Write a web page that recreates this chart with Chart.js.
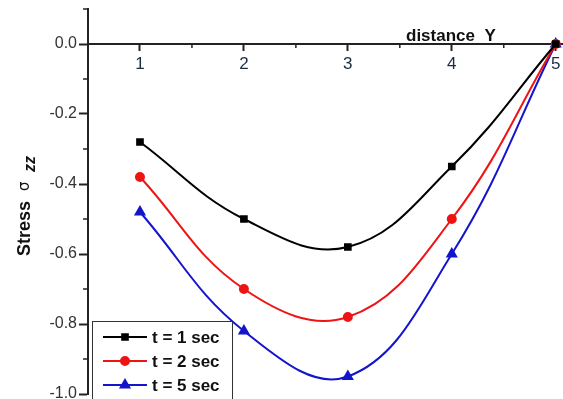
<!DOCTYPE html>
<html>
<head>
<meta charset="utf-8">
<script src="https://cdn.jsdelivr.net/npm/chart.js@4.4.1/dist/chart.umd.min.js"></script>
<style>
  html, body { margin: 0; padding: 0; background: #fff; }
  #wrap { width: 563px; height: 399px; }
</style>
</head>
<body>
<div id="wrap"><canvas id="myChart"></canvas></div>
<script>
// distance Y
const distance = [1, 2, 3, 4, 5];
// stress sigma zz for each time
const stressT1 = [-0.28, -0.50, -0.58, -0.35, 0.0];
const stressT2 = [-0.38, -0.70, -0.78, -0.50, 0.0];
const stressT5 = [-0.48, -0.82, -0.95, -0.60, 0.0];
const seriesLabels = ["t = 1 sec", "t = 2 sec", "t = 5 sec"];
const yTickLabels = [0.0, -0.2, -0.4, -0.6, -0.8, -1.0];
const xTickLabels = [1, 2, 3, 4, 5];

const colors = ["#000000", "#ee1414", "#1414cc"];
const markers = ["rect", "circle", "triangle"];
const allSeries = [stressT1, stressT2, stressT5];

const datasets = allSeries.map((vals, i) => ({
  label: seriesLabels[i],
  data: distance.map((x, j) => ({ x: x, y: vals[j] })),
  borderColor: colors[i],
  backgroundColor: colors[i],
  borderWidth: 2,
  pointStyle: markers[i],
  pointRadius: markers[i] === "triangle" ? 5 : 4,
  tension: 0.4,
  clip: false,
}));

const FONT = "Arial, 'Liberation Sans', sans-serif";

// minor ticks, axis titles and the boxed legend
const extras = {
  id: "extras",
  afterDraw(chart) {
    const ctx = chart.ctx;
    const xs = chart.scales.x, ys = chart.scales.y;
    const y0 = ys.getPixelForValue(0);
    ctx.save();
    ctx.strokeStyle = "#222";
    ctx.lineWidth = 1.5;
    [1.5, 2.5, 3.5, 4.5].forEach(v => {
      const px = xs.getPixelForValue(v);
      ctx.beginPath(); ctx.moveTo(px, y0); ctx.lineTo(px, y0 + 4); ctx.stroke();
    });
    const left = chart.chartArea.left;
    [0.1, -0.1, -0.3, -0.5, -0.7, -0.9].forEach(v => {
      const py = ys.getPixelForValue(v);
      ctx.beginPath(); ctx.moveTo(left, py); ctx.lineTo(left - 5, py); ctx.stroke();
    });

    // x title
    ctx.fillStyle = "#111";
    ctx.font = "bold 17px " + FONT;
    ctx.textBaseline = "alphabetic";
    ctx.textAlign = "left";
    ctx.fillText("distance  Y", 406, 41);

    // y title
    ctx.translate(30, 206);
    ctx.rotate(-Math.PI / 2);
    const parts = [
      { t: "Stress  ", f: "bold 18px " + FONT, dy: 0 },
      { t: "\u03c3  ", f: "15px 'DejaVu Sans', sans-serif", dy: -1 },
      { t: "zz", f: "bold italic 16px " + FONT, dy: 5 },
    ];
    let total = 0;
    parts.forEach(p => { ctx.font = p.f; p.w = ctx.measureText(p.t).width; total += p.w; });
    let sx = -total / 2;
    parts.forEach(p => { ctx.font = p.f; ctx.fillText(p.t, sx, p.dy); sx += p.w; });
    ctx.setTransform(1, 0, 0, 1, 0, 0);

    // legend
    const bx = 92, by = 321, bw = 140, bh = 90;
    ctx.fillStyle = "#fff";
    ctx.fillRect(bx, by, bw, bh);
    ctx.strokeStyle = "#333";
    ctx.lineWidth = 1;
    ctx.strokeRect(bx + 0.5, by + 0.5, bw, bh);
    chart.data.datasets.forEach((ds, i) => {
      const ly = 337 + i * 24;
      ctx.strokeStyle = ds.borderColor;
      ctx.fillStyle = ds.borderColor;
      ctx.lineWidth = 2;
      ctx.beginPath(); ctx.moveTo(103, ly); ctx.lineTo(147, ly); ctx.stroke();
      Chart.helpers.drawPoint(ctx, { pointStyle: ds.pointStyle, radius: ds.pointRadius, borderWidth: 1, rotation: 0 }, 125, ly);
      ctx.fillStyle = "#111";
      ctx.font = "bold 17px " + FONT;
      ctx.textBaseline = "middle";
      ctx.fillText(ds.label, 152, ly + 1);
    });
    ctx.restore();
  }
};

new Chart(document.getElementById("myChart").getContext("2d"), {
  type: "line",
  data: { datasets: datasets },
  options: {
    responsive: true,
    maintainAspectRatio: false,
    animation: false,
    layout: { autoPadding: false, padding: { left: 0, right: 0, top: 9, bottom: 5 } },
    plugins: { legend: { display: false }, tooltip: { enabled: false } },
    scales: {
      x: {
        type: "linear",
        position: { y: 0 },
        min: 0.5,
        max: 5.07,
        afterBuildTicks: s => { s.ticks = xTickLabels.map(v => ({ value: v })); },
        afterFit: s => { s.paddingLeft = 0; s.paddingRight = 0; s.paddingTop = 0; s.paddingBottom = 0; },
        border: { color: "#222", width: 2 },
        grid: { drawOnChartArea: false, drawTicks: true, tickLength: 6, tickWidth: 2, tickColor: "#222" },
        ticks: { autoSkip: false, maxRotation: 0, padding: 4, color: "#1c2a44",
                 font: { family: FONT, size: 17 } },
      },
      y: {
        type: "linear",
        min: -1.0,
        max: 0.1,
        afterBuildTicks: s => { s.ticks = yTickLabels.map(v => ({ value: v })); },
        afterFit: s => { s.width = 88; s.paddingTop = 0; s.paddingBottom = 0; },
        border: { color: "#222", width: 2 },
        grid: { drawOnChartArea: false, drawTicks: true, tickLength: 9, tickWidth: 2, tickColor: "#222" },
        ticks: { autoSkip: false, padding: 2, color: "#333",
                 callback: v => Number(v).toFixed(1),
                 font: { family: FONT, size: 16 } },
      },
    },
  },
  plugins: [extras],
});
</script>
</body>
</html>
